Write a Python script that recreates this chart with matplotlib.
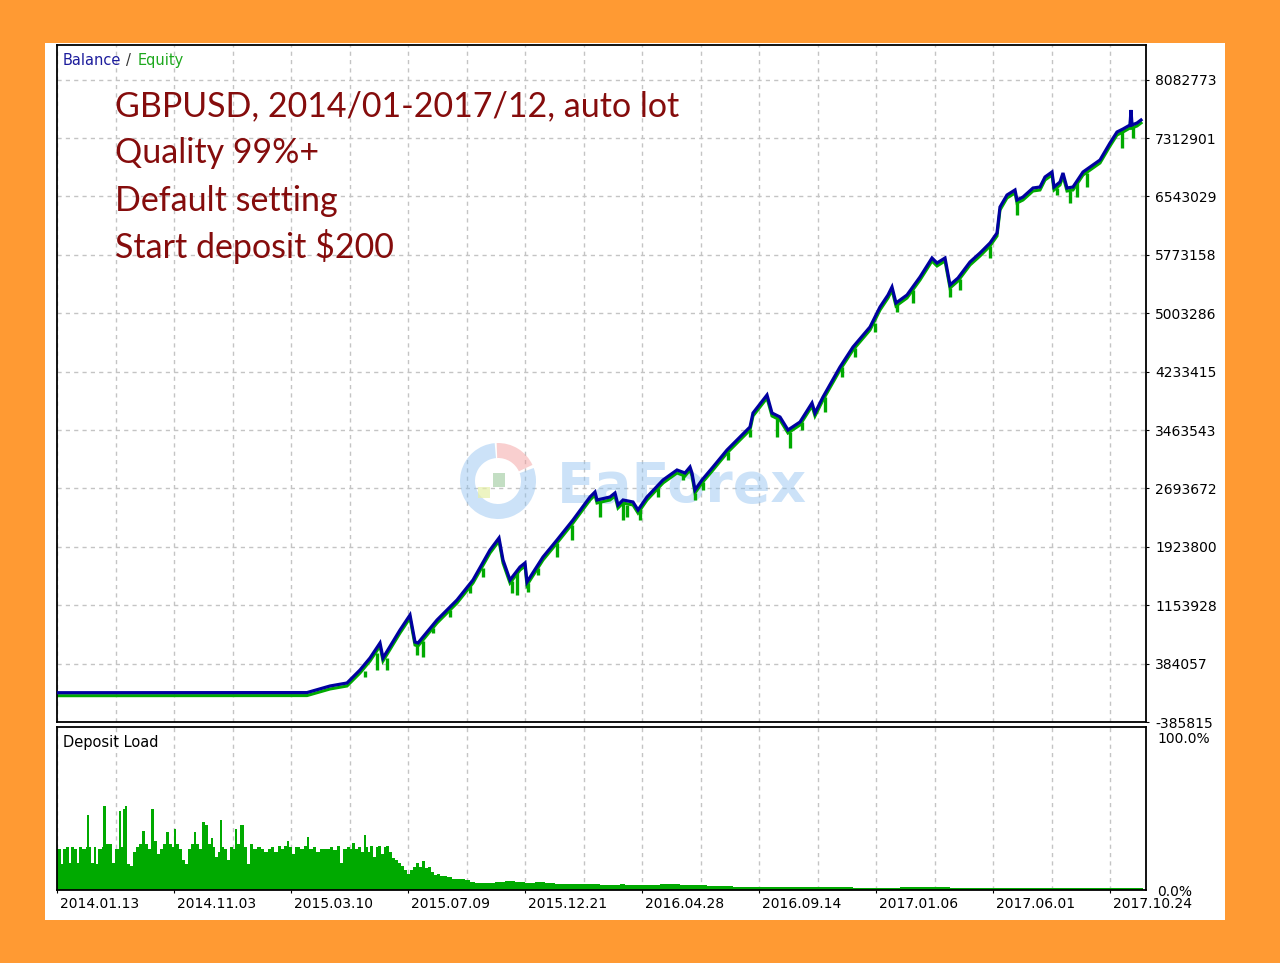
import matplotlib
matplotlib.use('Agg')
import matplotlib.pyplot as plt
import numpy as np
from matplotlib.patches import Rectangle, Wedge
from matplotlib.transforms import IdentityTransform, offset_copy, ScaledTranslation

W, H = 1280, 963

# ---------------- data (x = trade index, y = account value) ----------------
bal_x = [0, 250, 273, 290, 303, 313, 323, 326, 343, 353,
         358, 361, 380, 400, 416, 433, 442, 446, 453, 463,
         468, 470, 486, 500, 516, 533, 538, 540, 553, 558,
         561, 566, 576, 581, 590, 606, 620, 628, 633, 635,
         638, 645, 656, 670, 683, 693, 696, 710, 715, 723,
         731, 743, 755, 758, 766, 783, 796, 813, 823, 831,
         835, 839, 850, 863, 875, 880, 888, 893, 901, 913,
         923, 933, 940, 943, 950, 958, 960, 966, 976, 983,
         988, 995, 997, 1003, 1006, 1010, 1016, 1026, 1043, 1053,
         1060, 1066, 1073, 1074, 1075, 1080, 1084]
bal_v = [200, 2000, 88773, 128322, 299701, 457897, 655642, 457897, 827021, 1024766,
         668825, 655642, 958851, 1222511, 1486171, 1881661, 2039857, 1749831, 1486171, 1657550,
         1710282, 1459805, 1789380, 2013491, 2277151, 2580360, 2646275, 2540811, 2580360, 2633092,
         2474896, 2540811, 2514445, 2408981, 2580360, 2804471, 2936301, 2896752, 2975850, 2896752,
         2672641, 2804471, 2975850, 3199961, 3371340, 3503170, 3687732, 3925026, 3687732, 3635000,
         3463621, 3569085, 3819562, 3687732, 3898660, 4294150, 4557810, 4821470, 5085130, 5243326,
         5348790, 5137862, 5243326, 5480620, 5731097, 5665182, 5731097, 5375156, 5467437, 5678365,
         5797012, 5928842, 6060672, 6403430, 6561626, 6627541, 6495711, 6535260, 6653907, 6667090,
         6798920, 6864835, 6667090, 6733005, 6851652, 6653907, 6667090, 6864835, 7023031, 7247142,
         7392155, 7431704, 7484436, 7682181, 7484436, 7510802, 7550351]

# equity drawdown spikes (trade index, equity before dip, equity at dip)
spike_x = [308, 320, 330, 360, 366, 376, 393, 413, 426, 455,
           460, 471, 481, 500, 515, 543, 566, 570, 583, 601,
           626, 638, 646, 671, 693, 720, 733, 745, 768, 785,
           798, 818, 840, 856, 893, 903, 933, 960, 1000, 1013,
           1020, 1030, 1065, 1076]
spike_top = [286518, 523812, 457897, 629276, 682008, 853387, 1090681, 1407073, 1644367, 1472988,
             1578452, 1446622, 1644367, 1973942, 2211236, 2527628, 2501262, 2474896, 2435347, 2699007,
             2883569, 2633092, 2778105, 3173595, 3463621, 3608634, 3437255, 3569085, 3898660, 4294150,
             4544627, 4874202, 5124679, 5309241, 5335607, 5454254, 5889293, 6456162, 6653907, 6614358,
             6719822, 6851652, 7392155, 7458070]
spike_low = [207420, 299701, 299701, 497446, 471080, 787472, 998400, 1314792, 1525720, 1314792,
             1288426, 1327975, 1552086, 1789380, 2013491, 2316700, 2277151, 2316700, 2277151, 2580360,
             2804471, 2540811, 2672641, 3068131, 3371340, 3371340, 3226327, 3463621, 3700915, 4162320,
             4425980, 4755555, 5019215, 5137862, 5216960, 5309241, 5731097, 6297966, 6561626, 6456162,
             6535260, 6667090, 7181227, 7313057]

# deposit load (%)
load_x = [0, 4, 6, 9, 12, 14, 17, 20, 22, 25,
          29, 30, 32, 34, 37, 39, 41, 45, 46, 49,
          53, 55, 58, 62, 64, 66, 68, 70, 73, 76,
          79, 82, 85, 88, 91, 94, 97, 100, 103, 106,
          109, 112, 115, 117, 119, 122, 125, 128, 131, 134,
          137, 139, 142, 145, 148, 151, 154, 156, 158, 161,
          163, 165, 167, 170, 173, 176, 178, 180, 183, 187,
          190, 193, 196, 200, 204, 207, 211, 214, 217, 221,
          224, 227, 230, 232, 235, 238, 243, 247, 250, 252,
          256, 259, 263, 268, 273, 276, 280, 283, 286, 290,
          293, 295, 298, 301, 304, 307, 309, 311, 313, 316,
          319, 321, 324, 327, 329, 332, 335, 338, 341, 344,
          347, 350, 353, 356, 359, 362, 365, 368, 371, 374,
          377, 380, 383, 386, 390, 395, 401, 408, 413, 418,
          428, 438, 448, 458, 468, 478, 488, 498, 518, 543,
          563, 568, 583, 603, 623, 643, 650, 663, 676, 703,
          743, 796, 843, 893, 936, 940, 973, 1023, 1043, 1053]
load_pct = [27, 17, 27, 28, 18, 28, 27, 18, 28, 27,
            28, 49, 28, 18, 28, 17, 27, 28, 55, 30,
            30, 18, 27, 52, 28, 53, 55, 17, 16, 25,
            28, 30, 39, 30, 27, 53, 32, 24, 27, 30,
            38, 30, 28, 40, 30, 27, 20, 17, 27, 30,
            38, 30, 27, 45, 43, 30, 34, 28, 22, 25,
            46, 28, 27, 20, 28, 27, 40, 30, 43, 28,
            17, 30, 27, 28, 27, 25, 27, 28, 25, 29,
            27, 29, 32, 28, 24, 28, 27, 29, 35, 27,
            28, 25, 27, 27, 28, 26, 29, 18, 27, 28,
            27, 31, 27, 28, 25, 36, 28, 25, 29, 22,
            28, 29, 24, 28, 29, 25, 21, 20, 18, 16,
            13, 10.5, 13, 15, 18, 15, 19, 14.5, 15, 12,
            10, 10.5, 9, 9.2, 8.5, 7.5, 7.2, 6.5, 5.5, 4.6,
            4.8, 5.2, 5.9, 5.2, 4.8, 5.5, 4.5, 3.9, 3.9, 3.6,
            3.9, 3.3, 3.6, 3.9, 3.2, 3.0, 2.6, 2.6, 2.0, 2.3,
            1.8, 1.6, 1.7, 1.6, 1.6, 1.3, 1.4, 1.3, 1.3, 1.3]

y_ticks = [-385815, 384057, 1153928, 1923800, 2693672, 3463543,
           4233415, 5003286, 5773158, 6543029, 7312901, 8082773]
x_tick_labels = ['2014.01.13', '2014.11.03', '2015.03.10', '2015.07.09', '2015.12.21',
                 '2016.04.28', '2016.09.14', '2017.01.06', '2017.06.01', '2017.10.24']
info_lines = ['GBPUSD, 2014/01-2017/12, auto lot', 'Quality 99%+',
              'Default setting', 'Start deposit $200']

# ---------------- styling ----------------
ORANGE = '#FF9A33'
BLUE = '#0000A0'
GREEN = '#00AA00'
GRID = '#C4C4C4'
DARKRED = '#850C0C'
N_TRADES = 1089
CELL = 58.5

fig = plt.figure(figsize=(W / 100, H / 100), dpi=100)
fig.patch.set_facecolor(ORANGE)
fig.add_artist(Rectangle((45 / W, 1 - 920 / H), (1225 - 45) / W, (920 - 43) / H,
                         transform=fig.transFigure, facecolor='white', edgecolor='none', zorder=0))

ax1 = fig.add_axes([57 / W, 1 - 722 / H, 1089 / W, 677 / H])
ax2 = fig.add_axes([57 / W, 1 - 890 / H, 1089 / W, 163 / H])

grid_kw = dict(color=GRID, linestyle=(0, (3, 3)), linewidth=1.0)

# ---- top panel ----
ax1.set_xlim(0, N_TRADES)
ax1.set_ylim(-385815, 8539076)
ax1.set_xticks(np.arange(0, N_TRADES, CELL))
ax1.tick_params(axis='x', length=0, labelbottom=False)
ax1.yaxis.tick_right()
ax1.set_yticks(y_ticks)
ax1.set_yticklabels([str(v) for v in y_ticks])
ax1.tick_params(axis='y', direction='out', length=2.5, pad=4, labelsize=10, colors='black')
ax1.grid(True, **grid_kw)
ax1.set_axisbelow(True)
for s in ax1.spines.values():
    s.set_linewidth(1.3)
    s.set_color('black')

# watermark
ax1.text(557, H - 502, 'EaForex', transform=IdentityTransform(), fontsize=40,
         fontweight='bold', family='DejaVu Sans', color='#8EC0F0', alpha=0.45, zorder=1.5)
ax1.add_patch(Wedge((498, H - 481), 38, 95, 380, width=15, transform=IdentityTransform(),
                    facecolor='#8EC0F0', alpha=0.45, edgecolor='none', zorder=1.5))
ax1.add_patch(Wedge((498, H - 481), 38, 25, 92, width=15, transform=IdentityTransform(),
                    facecolor='#F4A0A0', alpha=0.5, edgecolor='none', zorder=1.5))
ax1.add_patch(Rectangle((493, H - 487), 12, 14, transform=IdentityTransform(),
                        facecolor='#9CC89C', alpha=0.6, edgecolor='none', zorder=1.5))
ax1.add_patch(Rectangle((478, H - 498), 12, 11, transform=IdentityTransform(),
                        facecolor='#E6F0A8', alpha=0.7, edgecolor='none', zorder=1.5))

# equity (green) under balance (blue)
eq_trans = offset_copy(ax1.transData, fig=fig, x=0, y=-3, units='dots')
ax1.plot(bal_x, bal_v, color=GREEN, linewidth=2.2, transform=eq_trans, zorder=2,
         solid_joinstyle='miter')
ax1.vlines(spike_x, spike_low, spike_top, color=GREEN, linewidth=2.4, zorder=2)
ax1.plot(bal_x, bal_v, color=BLUE, linewidth=2.3, zorder=3, solid_joinstyle='miter')

# legend text
ax1.text(63, H - 65, 'Balance', transform=IdentityTransform(), fontsize=10.5,
         color='#1C1C9C', va='baseline')
ax1.text(126, H - 65, '/', transform=IdentityTransform(), fontsize=10.5,
         color='#333333', va='baseline')
ax1.text(138, H - 65, 'Equity', transform=IdentityTransform(), fontsize=10.5,
         color='#1EA81E', va='baseline')

# info text
baselines = [116, 163, 211, 258]
for line, b in zip(info_lines, baselines):
    ax1.text(115, H - b, line, transform=IdentityTransform(), fontsize=24.5,
             family='Lato', color=DARKRED, va='baseline', zorder=4)

# ---- bottom panel ----
ax2.set_xlim(0, N_TRADES)
ax2.set_ylim(0, 107.2)
xs = list(load_x) + [N_TRADES - 3]
ys = list(load_pct) + [load_pct[-1]]
ax2.fill_between(xs, 0, ys, step='post', color=GREEN, linewidth=0, zorder=2)

major = np.arange(0, N_TRADES - 30, 2 * CELL)
ax2.set_xticks(major)
ax2.set_xticks(np.arange(CELL, N_TRADES, 2 * CELL), minor=True)
ax2.set_xticklabels(x_tick_labels[:len(major)], ha='left')
ax2.tick_params(axis='x', which='major', direction='out', length=2.5, pad=2.5,
                labelsize=10, colors='black')
ax2.tick_params(axis='x', which='minor', length=0)
off = ScaledTranslation(3 / 100, 0, fig.dpi_scale_trans)
for lab in ax2.get_xticklabels():
    lab.set_transform(lab.get_transform() + off)
ax2.grid(True, axis='x', which='both', **grid_kw)
ax2.set_axisbelow(True)
ax2.yaxis.tick_right()
ax2.set_yticks([0, 100])
ax2.set_yticklabels(['0.0%', '100.0%'])
ax2.tick_params(axis='y', direction='out', length=0, pad=8, labelsize=10, colors='black')
for s in ax2.spines.values():
    s.set_linewidth(1.3)
    s.set_color('black')

ax2.text(63, H - 747, 'Deposit Load', transform=IdentityTransform(), fontsize=10.5,
         color='black', va='baseline')

fig.savefig('out.png', dpi=100, facecolor=fig.get_facecolor())
